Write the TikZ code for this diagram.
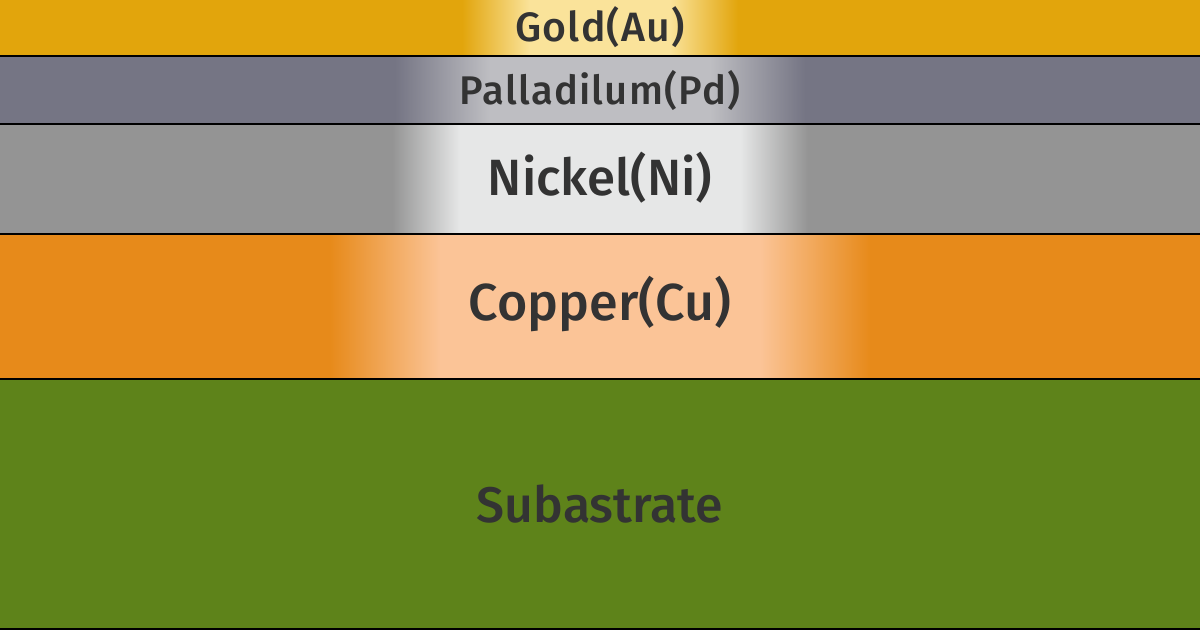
\documentclass[tikz,border=0pt]{standalone}
\usepackage{fontspec}
\setmainfont{Fira Sans}[UprightFont={Fira Sans Medium}]
\newfontfamily\widefont{Fira Sans}[UprightFont={Fira Sans Medium}, LetterSpace=3]
\definecolor{goldc}{HTML}{E2A50C}
\definecolor{goldlt}{HTML}{FAE39A}
\definecolor{pdc}{HTML}{757584}
\definecolor{pdlt}{HTML}{BEBEC2}
\definecolor{nic}{HTML}{949494}
\definecolor{nilt}{HTML}{E6E7E7}
\definecolor{cuc}{HTML}{E78A1A}
\definecolor{cult}{HTML}{FBC497}
\definecolor{subc}{HTML}{5E831A}
\definecolor{textc}{HTML}{333333}
\tikzstyle{layer} = [draw=none]
\tikzstyle{edge} = [line width=1.2pt, black]
\tikzstyle{label} = [text=textc, anchor=base, inner sep=0pt]
% glow behind a label: y1, y2, xa, xb, xc, xd, base, light
\newcommand{\glow}[8]{%
  \fill[left color=#7, right color=#8] (#3,#1) rectangle (#4,#2);
  \fill[#8] (#4,#1) rectangle (#5,#2);
  \fill[left color=#8, right color=#7] (#5,#1) rectangle (#6,#2);}

\begin{document}
\begin{tikzpicture}[x=1pt, y=-1pt]
		\useasboundingbox (0,0) rectangle (1200,630);
		% layers
		\fill[layer, goldc] (0,0) rectangle (1200,56);
		\fill[layer, pdc] (0,56) rectangle (1200,124);
		\fill[layer, nic] (0,124) rectangle (1200,234);
		\fill[layer, cuc] (0,234) rectangle (1200,379);
		\fill[layer, subc] (0,379) rectangle (1200,630);
		% glows
		\glow{0}{56}{462}{530}{670}{738}{goldc}{goldlt}
		\glow{56}{124}{395}{490}{710}{805}{pdc}{pdlt}
		\glow{124}{234}{392}{460}{740}{808}{nic}{nilt}
		\glow{234}{379}{330}{440}{760}{870}{cuc}{cult}
		% boundaries
		\coordinate (l1) at (0,56);    \coordinate (r1) at (1200,56);
		\coordinate (l2) at (0,124);   \coordinate (r2) at (1200,124);
		\coordinate (l3) at (0,234);   \coordinate (r3) at (1200,234);
		\coordinate (l4) at (0,379);   \coordinate (r4) at (1200,379);
		\coordinate (l5) at (0,629);   \coordinate (r5) at (1200,629);
		\foreach \i in {1,...,5}
			\draw [edge] (l\i) -- (r\i);
		% labels
		\node (gold) [label, font=\widefont\fontsize{41}{46}\selectfont] at (600,41) {Gold(Au)};
		\node (pd) [label, font=\widefont\fontsize{40}{46}\selectfont] at (600,104) {Palladilum(Pd)};
		\node (ni) [label, font=\fontsize{51}{56}\selectfont] at (600,195) {Nickel(Ni)};
		\node (cu) [label, font=\fontsize{52}{56}\selectfont] at (600,320) {Copper(Cu)};
		\node (sub) [label, font=\fontsize{50}{54}\selectfont] at (600,522) {Subastrate};
	\end{tikzpicture}
\end{document}
